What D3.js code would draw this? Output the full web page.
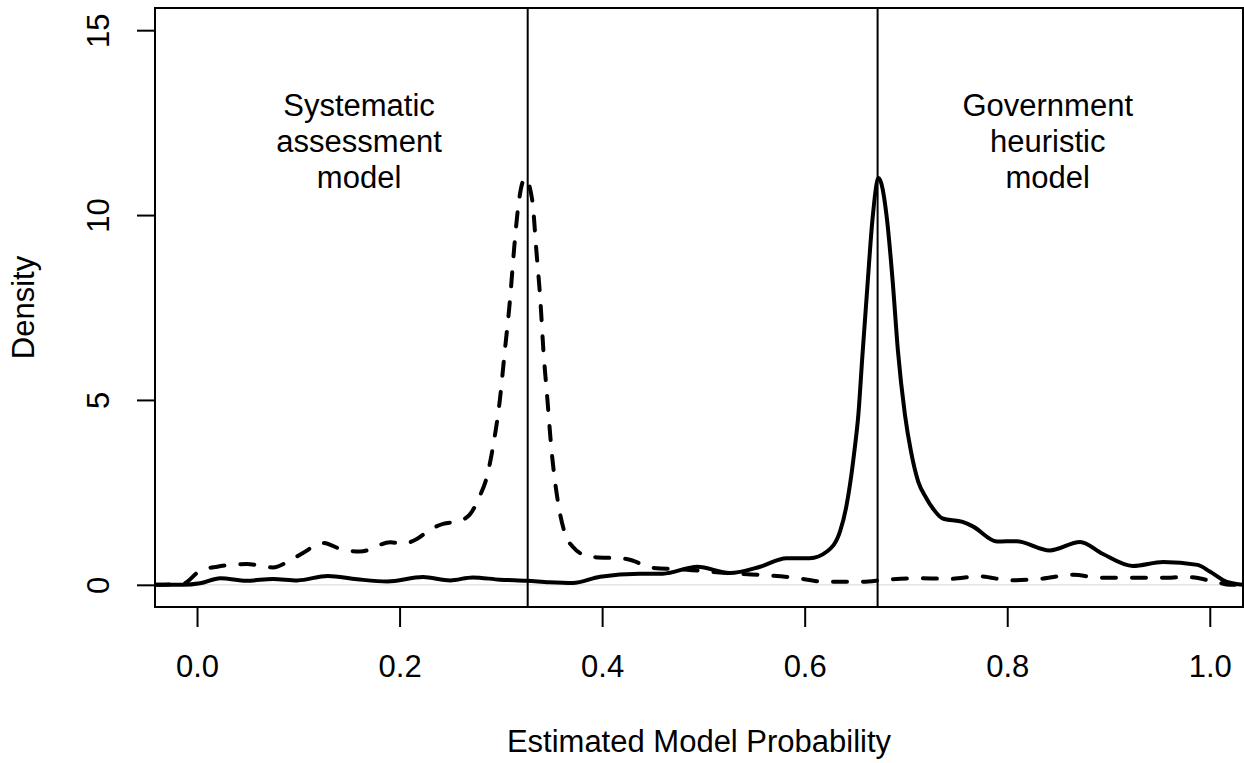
<!DOCTYPE html>
<html lang="en">
  <head>
    <meta charset="UTF-8" />
    <title>Estimated Model Probability density</title>
    <script src="https://d3js.org/d3.v7.min.js"></script>
    <style>
      body {
        margin: 0;
        background: #fff;
      }
      svg text {
        font-family: "Liberation Sans", Arial, sans-serif;
        font-size: 31px;
        fill: #000;
      }
    </style>
  </head>
  <body>
    <div id="chart"></div>
    <script>
      // density curves: [probability, density]
      const heuristicCurve = [
        [-0.041, 0], [-0.014, 0], [0.003, 0.04], [0.023, 0.18], [0.049, 0.11], [0.075, 0.16],
        [0.099, 0.12], [0.129, 0.24], [0.158, 0.15], [0.188, 0.09], [0.223, 0.21], [0.25, 0.12],
        [0.272, 0.2], [0.299, 0.14], [0.326, 0.11], [0.348, 0.07], [0.371, 0.05], [0.398, 0.22],
        [0.437, 0.3], [0.46, 0.3], [0.494, 0.49], [0.526, 0.32], [0.556, 0.49], [0.582, 0.72],
        [0.605, 0.72], [0.622, 0.9], [0.635, 1.45], [0.641, 2.1], [0.645, 2.76], [0.649, 3.6],
        [0.653, 4.6], [0.657, 6.2], [0.662, 8.1], [0.667, 9.9], [0.673, 11.0], [0.681, 9.95],
        [0.687, 8.17], [0.692, 6.35], [0.699, 4.6], [0.705, 3.6], [0.712, 2.8], [0.72, 2.35],
        [0.727, 2.05], [0.736, 1.8], [0.756, 1.7], [0.766, 1.58], [0.79, 1.17], [0.809, 1.18],
        [0.842, 0.93], [0.872, 1.16], [0.894, 0.84], [0.924, 0.51], [0.954, 0.62], [0.988, 0.54],
        [1.0, 0.36], [1.017, 0.08], [1.034, 0]
      ]

      const systematicCurve = [
        [-0.041, 0], [-0.014, 0.03], [0.003, 0.38], [0.02, 0.49], [0.049, 0.56], [0.075, 0.47],
        [0.09, 0.63], [0.105, 0.87], [0.124, 1.13], [0.144, 0.95], [0.161, 0.9], [0.191, 1.15],
        [0.203, 1.11], [0.217, 1.24], [0.23, 1.49], [0.243, 1.65], [0.257, 1.71], [0.269, 1.89],
        [0.279, 2.39], [0.286, 2.9], [0.292, 3.7], [0.299, 5.0], [0.304, 6.35], [0.309, 7.7],
        [0.313, 9.06], [0.317, 10.2], [0.324, 11.0], [0.331, 10.4], [0.335, 9.06], [0.339, 7.7],
        [0.342, 6.35], [0.346, 5.0], [0.35, 3.65], [0.355, 2.49], [0.363, 1.41], [0.371, 1.03],
        [0.388, 0.76], [0.424, 0.7], [0.45, 0.46], [0.484, 0.41], [0.516, 0.33], [0.556, 0.27],
        [0.588, 0.2], [0.622, 0.08], [0.654, 0.08], [0.681, 0.14], [0.714, 0.18], [0.743, 0.16],
        [0.773, 0.23], [0.803, 0.12], [0.832, 0.16], [0.865, 0.27], [0.891, 0.19], [0.921, 0.19],
        [0.951, 0.19], [0.978, 0.21], [1.007, 0.07], [1.02, 0], [1.034, 0]
      ]

      const cutPoints = [0.3265, 0.672]
      const xTicks = [0, 0.2, 0.4, 0.6, 0.8, 1.0]
      const yTicks = [0, 5, 10, 15]
      const regionLabels = [
        { x: 0.16, y: 12, lines: ["Systematic", "assessment", "model"] },
        { x: 0.84, y: 12, lines: ["Government", "heuristic", "model"] }
      ]

      const W = 1244,
        H = 763
      const box = { left: 155, right: 1243, top: 8, bottom: 607 }

      const svg = d3.select("#chart").append("svg").attr("width", W).attr("height", H)

      const x = d3.scaleLinear().domain([-0.0415, 1.0328]).range([box.left, box.right])
      const y = d3.scaleLinear().domain([-0.6, 15.6]).range([box.bottom, box.top])

      svg
        .append("clipPath")
        .attr("id", "plot-clip")
        .append("rect")
        .attr("x", box.left)
        .attr("y", box.top)
        .attr("width", box.right - box.left)
        .attr("height", box.bottom - box.top)

      // zero line, faint grey like R's plot.density
      svg
        .append("line")
        .attr("x1", box.left)
        .attr("x2", box.right)
        .attr("y1", y(0))
        .attr("y2", y(0))
        .attr("stroke", "#e4e4e4")
        .attr("stroke-width", 1.5)

      const line = d3
        .line()
        .x(d => x(d[0]))
        .y(d => y(d[1]))
        .curve(d3.curveMonotoneX)

      const plot = svg.append("g").attr("clip-path", "url(#plot-clip)")

      plot
        .append("path")
        .datum(systematicCurve)
        .attr("d", line)
        .attr("fill", "none")
        .attr("stroke", "#000")
        .attr("stroke-width", 4)
        .attr("stroke-dasharray", "14 16")
        .attr("stroke-linecap", "round")
        .attr("stroke-linejoin", "round")

      plot
        .append("path")
        .datum(heuristicCurve)
        .attr("d", line)
        .attr("fill", "none")
        .attr("stroke", "#000")
        .attr("stroke-width", 4)
        .attr("stroke-linejoin", "round")

      plot
        .selectAll(".cut")
        .data(cutPoints)
        .join("line")
        .attr("class", "cut")
        .attr("x1", d => x(d))
        .attr("x2", d => x(d))
        .attr("y1", box.top)
        .attr("y2", box.bottom)
        .attr("stroke", "#000")
        .attr("stroke-width", 2)

      // box
      svg
        .append("rect")
        .attr("x", box.left)
        .attr("y", box.top)
        .attr("width", box.right - box.left)
        .attr("height", box.bottom - box.top)
        .attr("fill", "none")
        .attr("stroke", "#000")
        .attr("stroke-width", 2)

      const xAxis = svg
        .append("g")
        .attr("transform", `translate(0,${box.bottom})`)
        .call(
          d3
            .axisBottom(x)
            .tickValues(xTicks)
            .tickSize(20)
            .tickPadding(28)
            .tickFormat(d3.format(".1f"))
        )
      xAxis.select(".domain").remove()
      xAxis.selectAll(".tick line").attr("stroke", "#000").attr("stroke-width", 2)
      xAxis.selectAll(".tick text").attr("font-size", null).attr("font-family", null)

      const yAxis = svg
        .append("g")
        .attr("transform", `translate(${box.left},0)`)
        .call(d3.axisLeft(y).tickValues(yTicks).tickSize(18))
      yAxis.select(".domain").remove()
      yAxis.selectAll(".tick line").attr("stroke", "#000").attr("stroke-width", 2)
      yAxis
        .selectAll(".tick text")
        .attr("x", 0)
        .attr("dy", 0)
        .attr("text-anchor", "middle")
        .attr("transform", "translate(-46,0) rotate(-90)")
      yAxis.attr("font-size", null).attr("font-family", null)
      xAxis.attr("font-size", null).attr("font-family", null)

      svg
        .append("text")
        .attr("x", (box.left + box.right) / 2)
        .attr("y", 752)
        .attr("text-anchor", "middle")
        .text("Estimated Model Probability")

      svg
        .append("text")
        .attr("transform", `translate(34,${(box.top + box.bottom) / 2}) rotate(-90)`)
        .attr("text-anchor", "middle")
        .text("Density")

      const labels = svg
        .selectAll(".region-label")
        .data(regionLabels)
        .join("text")
        .attr("class", "region-label")
        .attr("text-anchor", "middle")

      labels
        .selectAll("tspan")
        .data(d => d.lines.map((t, i) => ({ t, i, d })))
        .join("tspan")
        .attr("x", o => x(o.d.x))
        .attr("y", o => y(o.d.y) + 11 + (o.i - 1) * 36)
        .text(o => o.t)
    </script>
  </body>
</html>
